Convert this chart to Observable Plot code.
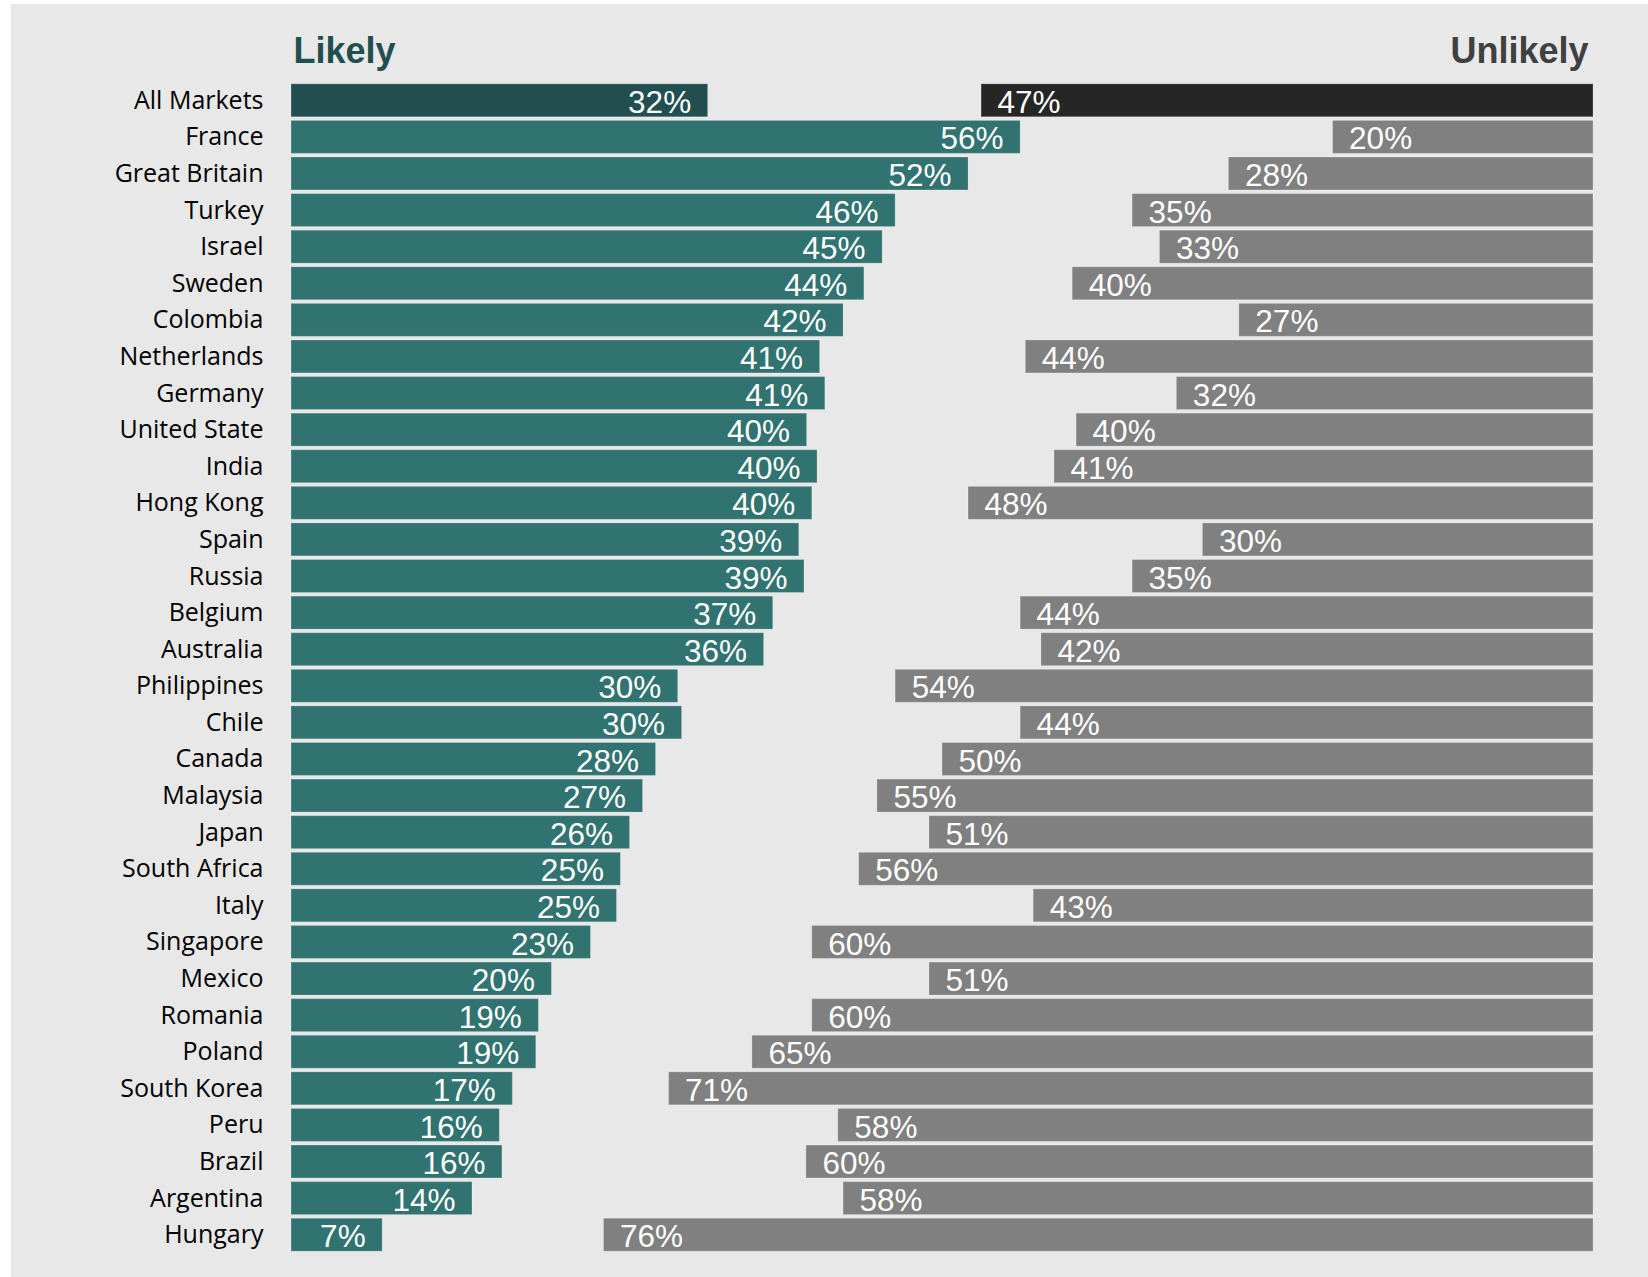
<!DOCTYPE html>
<html>
<head>
<meta charset="utf-8">
<script src="https://cdn.jsdelivr.net/npm/d3@7"></script>
<script src="https://cdn.jsdelivr.net/npm/@observablehq/plot@0.6"></script>
<style>
  html, body { margin: 0; padding: 0; background: #ffffff; }
  #wrap { position: relative; width: 1648px; height: 1277px; overflow: hidden; }
  #panel { position: absolute; left: 11px; top: 4px; right: 0; bottom: 0; background: #e8e8e8; }
  #chart { position: absolute; left: 0; top: 0; }
</style>
</head>
<body>
<div id="wrap"><div id="panel"></div><div id="chart"></div></div>
<script>
const countries = ["All Markets","France","Great Britain","Turkey","Israel","Sweden","Colombia","Netherlands","Germany","United State","India","Hong Kong","Spain","Russia","Belgium","Australia","Philippines","Chile","Canada","Malaysia","Japan","South Africa","Italy","Singapore","Mexico","Romania","Poland","South Korea","Peru","Brazil","Argentina","Hungary"];
const likely =   [32, 56, 52, 46.4, 45.4, 44, 42.4, 40.6, 41, 39.6, 40.4, 40, 39, 39.4, 37, 36.3, 29.7, 30, 28, 27, 26, 25.3, 25, 23, 20, 19, 18.8, 17, 16, 16.2, 13.9, 7];
const unlikely = [47, 20, 28, 35.4, 33.3, 40, 27.2, 43.6, 32, 39.7, 41.4, 48, 30, 35.4, 44, 42.4, 53.6, 44, 50, 55, 51, 56.4, 43, 60, 51, 60, 64.6, 71, 58, 60.45, 57.6, 76];
const titles = ["Likely", "Unlikely"];

const rows = countries.map((c, i) => ({country: c, likely: likely[i], unlikely: unlikely[i]}));
const isAll = d => d.country === "All Markets";

const plot = Plot.plot({
  width: 1648,
  height: 1277,
  marginLeft: 291,
  marginRight: 55,
  marginTop: 82,
  marginBottom: 24,
  style: {background: "transparent", fontFamily: "'Liberation Sans', Arial, sans-serif"},
  x: {domain: [0, 100], axis: null},
  y: {domain: countries, paddingInner: 0.1, paddingOuter: 0.05, round: false, label: null},
  marks: [
    Plot.axisY({tickSize: 0, tickPadding: 28, fontSize: 25, fontFamily: "'Open Sans', sans-serif", fill: "#000000", label: null}),
    Plot.barX(rows, {y: "country", x1: 0, x2: "likely", fill: d => isAll(d) ? "#214f4f" : "#317370", stroke: "#ffffff", strokeOpacity: 0.22, strokeWidth: 1}),
    Plot.barX(rows, {y: "country", x1: d => 100 - d.unlikely, x2: 100, fill: d => isAll(d) ? "#262626" : "#808080", stroke: "#ffffff", strokeOpacity: 0.22, strokeWidth: 1}),
    Plot.text(rows, {y: "country", x: "likely", text: d => Math.round(d.likely) + "%", textAnchor: "end", dx: -17, dy: 2, fill: "#ffffff", fontSize: 31.5}),
    Plot.text(rows, {y: "country", x: d => 100 - d.unlikely, text: d => Math.round(d.unlikely) + "%", textAnchor: "start", dx: 16, dy: 2, fill: "#ffffff", fontSize: 31.5}),
    Plot.text([titles[0]], {text: d => d, frameAnchor: "top-left", textAnchor: "start", lineAnchor: "bottom", dx: 2, dy: -20, fontSize: 36, fontWeight: "bold", fill: "#1f4f4f"}),
    Plot.text([titles[1]], {text: d => d, frameAnchor: "top-right", textAnchor: "end", lineAnchor: "bottom", dx: -5, dy: -20, fontSize: 36, fontWeight: "bold", fill: "#404040"})
  ]
});
document.getElementById("chart").appendChild(plot);
</script>
</body>
</html>
